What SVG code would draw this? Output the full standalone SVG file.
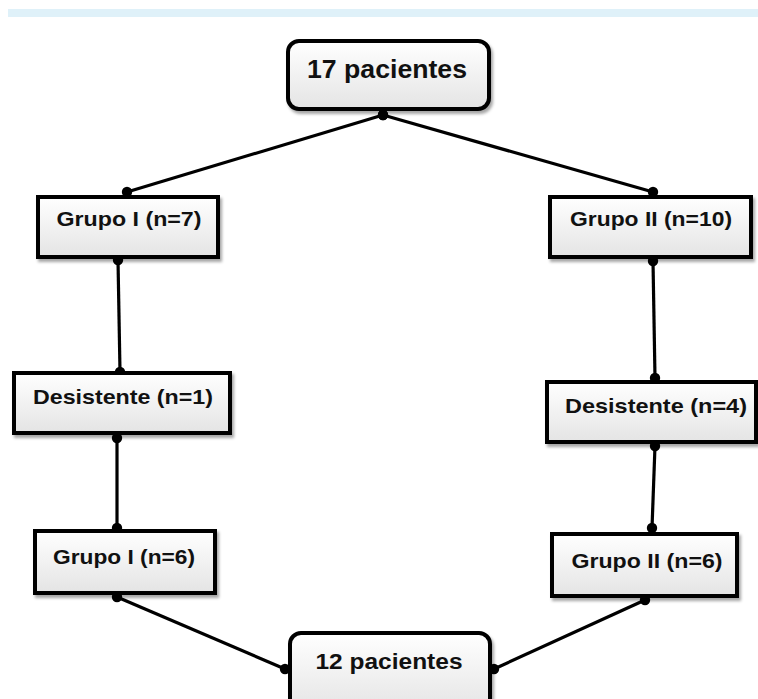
<svg xmlns="http://www.w3.org/2000/svg" width="758" height="699" viewBox="0 0 758 699">
<defs>
<linearGradient id="g" x1="0" y1="0" x2="0" y2="1">
<stop offset="0" stop-color="#ffffff"/>
<stop offset="1" stop-color="#e4e4e4"/>
</linearGradient>
<filter id="sh" x="-10%" y="-10%" width="130%" height="140%">
<feDropShadow dx="2" dy="3" stdDeviation="1.5" flood-color="#000" flood-opacity="0.35"/>
</filter>
<marker id="dot" viewBox="0 0 12 12" refX="6" refY="6" markerWidth="12" markerHeight="12" markerUnits="userSpaceOnUse">
<circle cx="6" cy="6" r="5.2" fill="#000"/>
</marker>
</defs>
<style>
.box{fill:url(#g);stroke:#000;stroke-width:4;filter:url(#sh)}
.t{font-family:"Liberation Sans",Arial,sans-serif;font-weight:bold;fill:#111;text-anchor:middle}
.c{stroke:#000;stroke-width:3.2;fill:none;marker-start:url(#dot);marker-end:url(#dot)}
</style>
<rect x="8" y="9" width="750" height="8" fill="#dff1f9"/>
<g id="connectors">
<line class="c" x1="383" y1="115" x2="127" y2="192"/>
<line class="c" x1="383" y1="115" x2="653" y2="192"/>
<line class="c" x1="118" y1="260" x2="120" y2="372"/>
<line class="c" x1="653" y1="261" x2="655" y2="378"/>
<line class="c" x1="117" y1="438" x2="117" y2="528"/>
<line class="c" x1="655" y1="446" x2="652" y2="528"/>
<line class="c" x1="117" y1="597" x2="285" y2="669"/>
<line class="c" x1="645" y1="600" x2="494" y2="669"/>
</g>
<g id="n17">
<rect class="box" x="288" y="41" width="201" height="68" rx="11"/>
<text class="t" x="387" y="78" font-size="26" textLength="160" lengthAdjust="spacingAndGlyphs">17 pacientes</text>
</g>
<g id="g1a">
<rect class="box" x="38" y="197" width="180" height="60"/>
<text class="t" x="129" y="226" font-size="21" textLength="145" lengthAdjust="spacingAndGlyphs">Grupo I (n=7)</text>
</g>
<g id="g2a">
<rect class="box" x="550" y="197" width="201" height="60"/>
<text class="t" x="651" y="226" font-size="21" textLength="162" lengthAdjust="spacingAndGlyphs">Grupo II (n=10)</text>
</g>
<g id="d1">
<rect class="box" x="14" y="373" width="216" height="60"/>
<text class="t" x="123" y="404" font-size="21" textLength="180" lengthAdjust="spacingAndGlyphs">Desistente (n=1)</text>
</g>
<g id="d4">
<rect class="box" x="547" y="382" width="209" height="60"/>
<text class="t" x="656" y="413" font-size="21" textLength="182" lengthAdjust="spacingAndGlyphs">Desistente (n=4)</text>
</g>
<g id="g1b">
<rect class="box" x="35" y="531" width="180" height="62"/>
<text class="t" x="124" y="564" font-size="21" textLength="142" lengthAdjust="spacingAndGlyphs">Grupo I (n=6)</text>
</g>
<g id="g2b">
<rect class="box" x="552" y="534" width="185" height="62"/>
<text class="t" x="647" y="568" font-size="21" textLength="151" lengthAdjust="spacingAndGlyphs">Grupo II (n=6)</text>
</g>
<g id="n12">
<rect class="box" x="290" y="633" width="200" height="80" rx="11"/>
<text class="t" x="389" y="669" font-size="22" textLength="147" lengthAdjust="spacingAndGlyphs">12 pacientes</text>
</g>
</svg>
